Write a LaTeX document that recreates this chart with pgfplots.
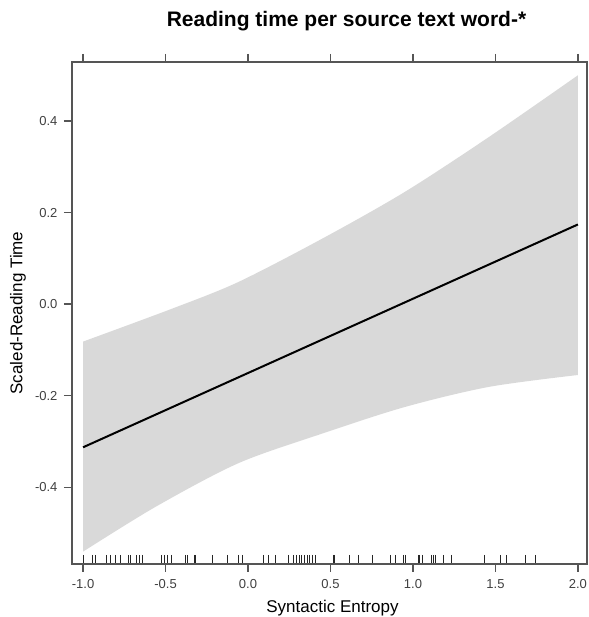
\documentclass[border=0pt]{standalone}
\usepackage{fontspec}
\setmainfont{Liberation Sans}
\usepackage{pgfplots}
\pgfplotsset{compat=1.18}
\usepgfplotslibrary{fillbetween}

\definecolor{bandgray}{RGB}{217,217,217}
\definecolor{framegray}{RGB}{85,85,85}

\begin{document}
\begin{tikzpicture}
\begin{axis}[
  at={(72pt,53pt)}, anchor=south west,
  scale only axis,
  width=515pt, height=502pt,
  xmin=-1.067, xmax=2.055,
  ymin=-0.568, ymax=0.529,
  xtick={-1,-0.5,0,0.5,1,1.5,2},
  ytick={-0.4,-0.2,0,0.2,0.4},
  xticklabels={-1.0,-0.5,0.0,0.5,1.0,1.5,2.0},
  yticklabels={-0.4,-0.2,0.0,0.2,0.4},
  xtick pos=both, xticklabel pos=bottom,
  ytick pos=left,
  tick align=outside,
  major tick length=8pt,
  axis line style={framegray, line width=1.2pt},
  every tick/.style={framegray, line width=1.2pt},
  /pgf/number format/assume math mode=true,
  tick label style={font=\fontsize{13}{15}\selectfont, text=black!75},
  xticklabel style={yshift=-4pt},
  yticklabel style={xshift=-3pt},
  title={Reading time per source text word-*},
  title style={font=\fontsize{21}{24}\selectfont\bfseries, anchor=base,
    at={(axis description cs:0.5,1)}, yshift=29pt, xshift=17pt},
  xlabel={Syntactic Entropy},
  xlabel style={font=\fontsize{17}{20}\selectfont, anchor=base,
    at={(axis description cs:0.5,0)}, yshift=-48pt, xshift=3pt},
  ylabel={Scaled-Reading Time},
  ylabel style={font=\fontsize{17}{20}\selectfont, anchor=center,
    at={(axis description cs:-0.105,0.5)}},
  clip=false,
]

% confidence band
\addplot[name path=up, draw=none, smooth] coordinates {
  (-1.00,-0.082) (-0.46,-0.010) (-0.06,0.048) (0.45,0.143)
  (0.95,0.245) (1.46,0.365) (2.00,0.500)
};
\addplot[name path=lo, draw=none, smooth] coordinates {
  (-1.00,-0.541) (-0.56,-0.443) (-0.06,-0.348) (0.45,-0.283)
  (0.95,-0.225) (1.46,-0.181) (2.00,-0.155)
};
\addplot[bandgray, draw=none] fill between[of=up and lo];

% fitted effect
\addplot[black, line width=2pt] coordinates {(-1,-0.313) (2,0.174)};

% rug
\addplot[only marks, mark=|, mark size=4pt,
  mark options={black!85, line width=1pt}] coordinates {
  (-1.000,-0.557) (-0.944,-0.557) (-0.927,-0.557) (-0.856,-0.557)
  (-0.832,-0.557) (-0.806,-0.557) (-0.776,-0.557) (-0.723,-0.557)
  (-0.711,-0.557) (-0.679,-0.557) (-0.659,-0.557) (-0.638,-0.557)
  (-0.523,-0.557) (-0.507,-0.557) (-0.489,-0.557) (-0.462,-0.557)
  (-0.382,-0.557) (-0.365,-0.557) (-0.327,-0.557) (-0.321,-0.557)
  (-0.214,-0.557) (-0.125,-0.557) (-0.059,-0.557) (-0.035,-0.557)
  (0.093,-0.557) (0.123,-0.557) (0.168,-0.557) (0.244,-0.557)
  (0.275,-0.557) (0.291,-0.557) (0.315,-0.557) (0.325,-0.557)
  (0.345,-0.557) (0.359,-0.557) (0.370,-0.557) (0.392,-0.557)
  (0.412,-0.557) (0.521,-0.557) (0.527,-0.557) (0.614,-0.557)
  (0.668,-0.557) (0.756,-0.557) (0.865,-0.557) (0.895,-0.557)
  (0.945,-0.557) (0.956,-0.557) (1.032,-0.557) (1.042,-0.557)
  (1.059,-0.557) (1.113,-0.557) (1.127,-0.557) (1.139,-0.557)
  (1.184,-0.557) (1.235,-0.557) (1.436,-0.557) (1.532,-0.557)
  (1.568,-0.557) (1.685,-0.557) (1.745,-0.557)
};

\end{axis}
\pgfresetboundingbox
\useasboundingbox (0,0) rectangle (588pt,617pt);
\end{tikzpicture}
\end{document}
